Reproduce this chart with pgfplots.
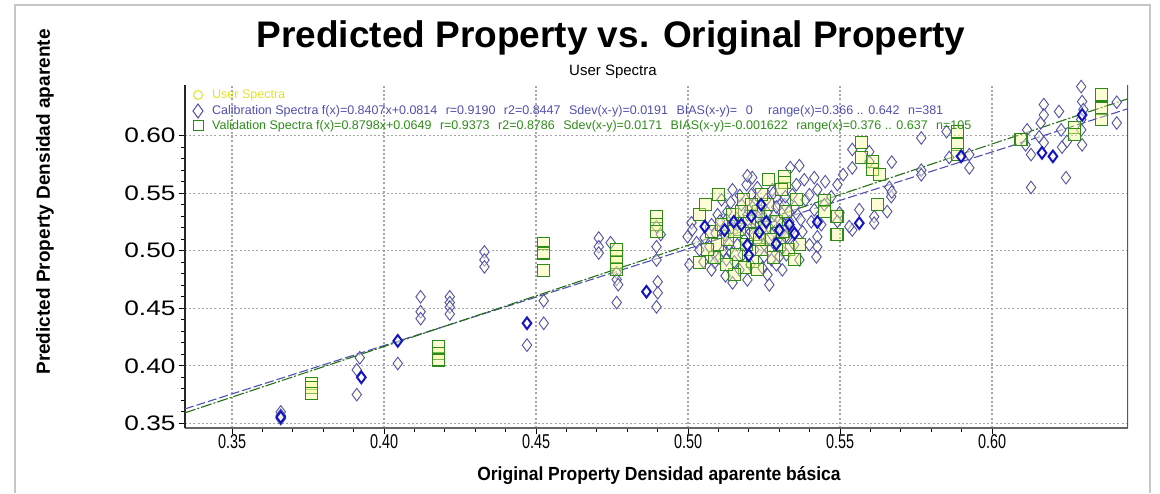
\documentclass[border=0pt]{standalone}
\usepackage{pgfplots}
\pgfplotsset{compat=1.18}
\usepackage{fontspec}
\setmainfont{Liberation Sans}
\definecolor{calib}{RGB}{80,80,175}
\definecolor{calibdark}{RGB}{20,20,190}
\definecolor{calibfill}{RGB}{255,255,225}
\definecolor{valid}{RGB}{45,140,25}
\definecolor{validfill}{RGB}{250,250,150}
\definecolor{userc}{RGB}{225,225,40}
\definecolor{gridc}{RGB}{165,165,165}

\pgfplotstableread{
x y
0.366 0.360
0.366 0.357
0.366 0.354
0.392 0.407
0.391 0.3965
0.391 0.375
0.4045 0.402
0.412 0.460
0.412 0.447
0.412 0.441
0.4216 0.460
0.4216 0.455
0.4216 0.451
0.4216 0.445
0.433 0.499
0.433 0.492
0.433 0.486
0.447 0.418
0.4525 0.4565
0.4525 0.437
0.4706 0.511
0.4706 0.5035
0.4706 0.498
0.4745 0.507
0.4765 0.481
0.4765 0.475
0.477 0.4705
0.4765 0.455
0.4896 0.521
0.491 0.514
0.4896 0.5035
0.4896 0.492
0.490 0.473
0.490 0.4635
0.4896 0.4513
0.5011 0.5243
0.5014 0.5183
0.4998 0.5122
0.5028 0.507
0.5070 0.5035
0.5093 0.4948
0.5087 0.4896
0.5126 0.4922
0.5004 0.488
0.5110 0.5443
0.5129 0.5339
0.5146 0.5530
0.5162 0.5226
0.5175 0.5400
0.5185 0.5095
0.5195 0.5313
0.5202 0.5182
0.5208 0.5487
0.5218 0.5008
0.5225 0.5252
0.5234 0.5356
0.5241 0.5139
0.5251 0.5052
0.5257 0.5443
0.5267 0.5200
0.5274 0.4921
0.5284 0.5313
0.5294 0.5095
0.5300 0.5400
0.5307 0.5008
0.5317 0.5226
0.5326 0.5113
0.5333 0.5339
0.5120 0.5139
0.5136 0.5008
0.5152 0.4904
0.5169 0.4834
0.5179 0.4965
0.5192 0.5574
0.5211 0.5635
0.5228 0.5548
0.5244 0.4852
0.5261 0.4791
0.5277 0.5530
0.5290 0.5461
0.5310 0.4834
0.5323 0.4965
0.5340 0.5182
0.5349 0.5052
0.5359 0.5313
0.5366 0.4921
0.5376 0.5165
0.5386 0.5443
0.5399 0.5052
0.5405 0.5252
0.5415 0.5356
0.5195 0.4747
0.5267 0.4704
0.5162 0.5052
0.5143 0.5200
0.5126 0.5269
0.5097 0.5313
0.5077 0.5226
0.5054 0.5113
0.5037 0.5008
0.5050 0.4904
0.5077 0.4834
0.5103 0.4939
0.5123 0.4782
0.5146 0.4721
0.5218 0.5400
0.5234 0.5226
0.5251 0.5287
0.5267 0.5008
0.5284 0.5165
0.5300 0.5269
0.5317 0.5400
0.5343 0.5487
0.5356 0.5574
0.5382 0.5617
0.5399 0.5487
0.5425 0.5530
0.5448 0.5400
0.5471 0.5469
0.5491 0.5574
0.5510 0.5661
0.5451 0.5600
0.5415 0.5635
0.5336 0.5722
0.5366 0.5739
0.5195 0.5652
0.5438 0.5226
0.5425 0.5121
0.5425 0.5034
0.5422 0.4947
0.5290 0.4878
0.5333 0.5252
0.5160 0.5280
0.5185 0.5200
0.5200 0.5350
0.5215 0.5150
0.5230 0.5290
0.5245 0.5190
0.5260 0.5330
0.5275 0.5140
0.5290 0.5380
0.5305 0.5230
0.5320 0.5120
0.5140 0.5420
0.5170 0.5480
0.5225 0.5440
0.5280 0.5500
0.5250 0.4950
0.5205 0.4880
0.5135 0.5060
0.5115 0.5000
0.5090 0.5150
0.5105 0.5260
0.5320 0.5470
0.5350 0.5380
0.5370 0.5270
0.5300 0.4950
0.554 0.588
0.554 0.572
0.5596 0.586
0.5596 0.5774
0.567 0.577
0.5767 0.598
0.5767 0.570
0.5767 0.566
0.5662 0.555
0.5668 0.547
0.5655 0.534
0.5612 0.5296
0.5612 0.524
0.554 0.518
0.5563 0.5357
0.553 0.521
0.567 0.551
0.5498 0.533
0.5491 0.5255
0.585 0.6035
0.5859 0.581
0.5925 0.5835
0.5925 0.572
0.6115 0.605
0.611 0.592
0.6128 0.5835
0.616 0.611
0.6155 0.599
0.617 0.627
0.617 0.618
0.617 0.594
0.622 0.621
0.6227 0.605
0.623 0.590
0.6246 0.595
0.6293 0.6426
0.6296 0.6296
0.630 0.6226
0.6293 0.614
0.6293 0.605
0.6296 0.592
0.641 0.629
0.641 0.611
0.6243 0.5635
0.6128 0.555
}\calibtable

\pgfplotstableread{
x y
0.366 0.3555
0.3925 0.390
0.4045 0.4217
0.447 0.437
0.4863 0.4644
0.5055 0.521
0.5175 0.5226
0.5208 0.5300
0.5234 0.5160
0.5257 0.5250
0.5195 0.5050
0.5300 0.5180
0.5333 0.5226
0.5425 0.5250
0.5150 0.5250
0.5240 0.5400
0.5290 0.5060
0.5200 0.4960
0.5120 0.5180
0.5350 0.5150
0.5898 0.582
0.6164 0.585
0.6200 0.5820
0.6296 0.6180
0.5563 0.5240
}\calibdarktable

\pgfplotstableread{
x y
0.376 0.385
0.376 0.381
0.376 0.376
0.418 0.4165
0.418 0.411
0.418 0.405
0.4525 0.506
0.4525 0.498
0.4525 0.4826
0.4765 0.501
0.4765 0.495
0.4765 0.4895
0.4765 0.4835
0.4896 0.5296
0.4896 0.5226
0.4896 0.5165
0.5037 0.4896
0.510 0.549
0.5317 0.5644
0.5317 0.559
0.5356 0.5443
0.5448 0.544
0.5448 0.534
0.549 0.5296
0.549 0.514
0.557 0.594
0.557 0.581
0.5606 0.5774
0.5606 0.5704
0.563 0.566
0.5622 0.540
0.5885 0.6035
0.5885 0.592
0.5885 0.5835
0.6095 0.5965
0.627 0.607
0.627 0.601
0.6361 0.6357
0.6361 0.624
0.6361 0.614
0.5037 0.5313
0.5057 0.5400
0.5077 0.5165
0.5097 0.5052
0.5110 0.5226
0.5129 0.5095
0.5146 0.5313
0.5159 0.4965
0.5169 0.5182
0.5182 0.5443
0.5192 0.5052
0.5202 0.5252
0.5211 0.4904
0.5221 0.5139
0.5231 0.5339
0.5241 0.5008
0.5251 0.5200
0.5261 0.5400
0.5271 0.5095
0.5280 0.4939
0.5290 0.5252
0.5300 0.5052
0.5310 0.5165
0.5320 0.5339
0.5330 0.5008
0.5228 0.4834
0.5185 0.4852
0.5152 0.4791
0.5126 0.4878
0.5087 0.4939
0.5064 0.5008
0.5241 0.5487
0.5264 0.5617
0.5307 0.5530
0.5349 0.4921
0.5366 0.5052
0.5234 0.5095
0.5208 0.5400
0.5175 0.5339
0.5152 0.5165
}\validtable

\begin{document}
\begin{tikzpicture}[x=1pt,y=1pt]
\path[use as bounding box] (0,0) rectangle (1160,493);
\draw[gray!45, line width=2.5pt] (15,0) -- (15,488) -- (1150,488) -- (1150,0);
\begin{axis}[
  at={(185pt,65pt)}, anchor=south west,
  scale only axis, width=943pt, height=343pt,
  xmin=0.3345, xmax=0.6447, ymin=0.346, ymax=0.644,
  xtick={0.35,0.4,0.45,0.5,0.55,0.6},
  ytick={0.35,0.4,0.45,0.5,0.55,0.6},
  minor x tick num=4, minor y tick num=4,
  axis x line*=bottom, axis y line*=left,
  axis line style={-},
  x axis line style={line width=2.2pt, black!60},
  y axis line style={line width=1.8pt, black!85},
  tick align=outside,
  major tick length=6pt, minor tick length=4pt,
  every tick/.style={black, line width=0.9pt},
  grid=major,
  major grid style={gridc, line width=1.3pt, dash pattern=on 2pt off 2.2pt},
  /pgf/number format/assume math mode=true,
  /pgf/number format/.cd, fixed, fixed zerofill, precision=2,
  /pgfplots/.cd,
  xticklabel={\scalebox{0.72}[1]{\pgfmathprintnumber{\tick}}},
  xticklabel style={font=\fontsize{20}{22}\selectfont, yshift=3pt},
  yticklabel={\scalebox{1.25}[1]{\pgfmathprintnumber{\tick}}},
  yticklabel style={font=\fontsize{21}{22}\selectfont},
]
\addplot[only marks, mark=diamond*, mark size=6.3pt,
  mark options={draw=calib, fill=calibfill, fill opacity=0.5, line width=0.9pt}] table {\calibtable};
\addplot[only marks, mark=square*, mark size=6pt,
  mark options={draw=valid, fill=validfill, fill opacity=0.4, line width=1.2pt}] table {\validtable};
\addplot[only marks, mark=diamond*, mark size=5.8pt,
  mark options={draw=calibdark, fill=white, fill opacity=0.5, line width=2pt}] table {\calibdarktable};
\addplot[calib, line width=1.1pt, dash pattern=on 9pt off 3pt] coordinates {(0.3345,0.3626) (0.6447,0.6234)};
\addplot[valid!80!black, line width=1.1pt, dash pattern=on 11pt off 2pt on 2pt off 2pt] coordinates {(0.3345,0.3592) (0.6447,0.6321)};
\draw[black!65, line width=1.5pt] (rel axis cs:1,0) -- (rel axis cs:1,1);
\end{axis}
% titles
\node[font=\bfseries\fontsize{37}{40}\selectfont] at (611,455) {Predicted Property vs. Original Property};
\node[font=\fontsize{15}{17}\selectfont] at (613,421) {User Spectra};
\node[font=\bfseries\fontsize{19}{21}\selectfont, rotate=90] at (45,291) {Predicted Property Densidad aparente};
\node[font=\bfseries\fontsize{19}{21}\selectfont] at (659,17) {\scalebox{0.92}[1]{Original Property Densidad aparente básica}};
% legend
\draw[userc, line width=1pt] (198,398) circle (4.5pt);
\node[anchor=west, text=userc, font=\fontsize{12.5}{14}\selectfont, inner sep=0pt] at (212,398) {User Spectra};
\draw[calib, line width=1pt] (198,389) -- (203,382) -- (198,375) -- (193,382) -- cycle;
\node[anchor=west, text=calib, font=\fontsize{12.5}{14}\selectfont, inner sep=0pt] at (212,382) {Calibration Spectra f(x)=0.8407x+0.0814\hspace{5pt} r=0.9190\hspace{5pt} r2=0.8447\hspace{5pt} Sdev(x-y)=0.0191\hspace{5pt} BIAS(x-y)=\hspace{5pt} 0\hspace{12pt} range(x)=0.366 .. 0.642\hspace{5pt} n=381};
\draw[valid, line width=1pt] (193,362) rectangle (203,372);
\node[anchor=west, text=valid, font=\fontsize{12.5}{14}\selectfont, inner sep=0pt] at (212,367) {Validation Spectra f(x)=0.8798x+0.0649\hspace{5pt} r=0.9373\hspace{5pt} r2=0.8786\hspace{5pt} Sdev(x-y)=0.0171\hspace{5pt} BIAS(x-y)=-0.001622\hspace{5pt} range(x)=0.376 .. 0.637\hspace{5pt} n=105};
\end{tikzpicture}
\end{document}
